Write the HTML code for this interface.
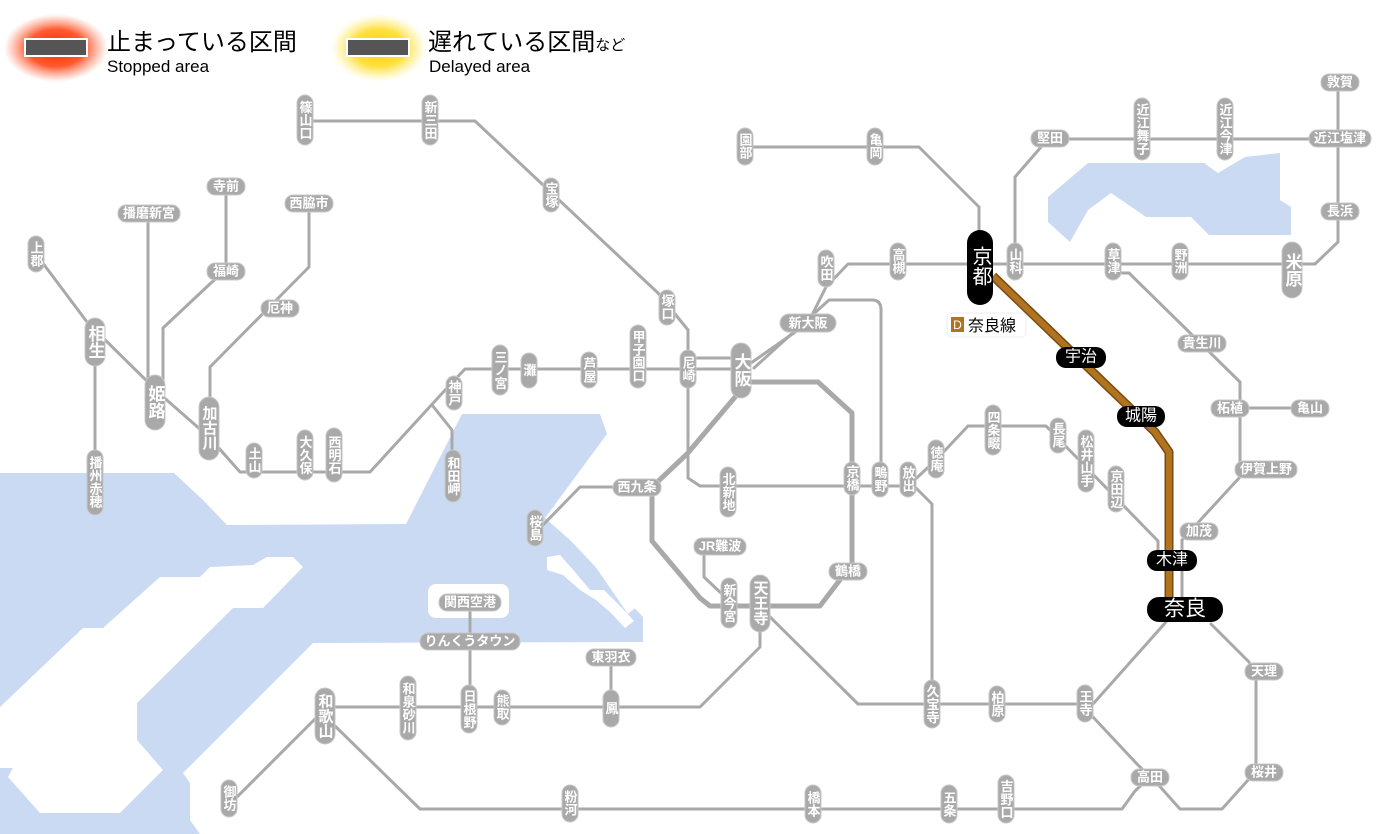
<!DOCTYPE html>
<html><head><meta charset="utf-8"><style>
html,body{margin:0;padding:0;background:#fff;width:1400px;height:834px;overflow:hidden}
svg{display:block}
.l{stroke:#a9a9a9;stroke-width:3;fill:none;stroke-linejoin:round;stroke-linecap:round}
.lw{stroke:#a9a9a9;stroke-width:5;fill:none;stroke-linejoin:round}
.p{fill:#a9a9a9;stroke:#c8c8c8;stroke-width:1}
.b{fill:#000}
.t{fill:#fff;font-family:"Liberation Sans","Noto Sans CJK JP",sans-serif;font-size:13px;font-weight:bold;text-anchor:middle;dominant-baseline:central}
.v{writing-mode:vertical-rl;letter-spacing:0}
</style></head><body>
<svg width="1400" height="834" viewBox="0 0 1400 834" xmlns="http://www.w3.org/2000/svg">
<defs>
<radialGradient id="rg"><stop offset="0" stop-color="#ff2a00"/><stop offset="0.55" stop-color="#ff5a30"/><stop offset="1" stop-color="#ff8060" stop-opacity="0"/></radialGradient>
<radialGradient id="yg"><stop offset="0" stop-color="#ffd000"/><stop offset="0.55" stop-color="#ffe040"/><stop offset="1" stop-color="#fff080" stop-opacity="0"/></radialGradient>
</defs>
<!-- water -->
<polygon fill="#cbdaf3" points="0,473 174,473 203,500 227,525 406,524 462,414 600,414 607,434 545,518 570,540 643,617 643,642 313,643 183,773 190,783 190,820 200,834 0,834"/>
<polygon fill="#fff" points="303,567 293,557 267,557 253,565 210,567 200,577 160,577 103,628 83,628 0,707 0,768 13,768 8,777 40,813 120,813 163,770 137,740 137,703 233,608 263,608"/>
<rect x="428" y="584" width="81" height="34" rx="8" fill="#fff"/>
<polygon fill="#fff" points="547,557 560,555 575,572 590,590 604,590 622,608 634,621 625,628 610,612 596,600 580,590 563,575 547,570"/>
<polygon fill="#fff" points="600,558 635,608 628,614 595,566"/>
<polygon fill="#cbdaf3" points="1088,163 1204,163 1218,173 1245,157 1280,153 1280,200 1291,207 1291,235 1209,235 1191,217 1146,217 1111,193 1088,210 1070,242 1048,222 1048,197"/>

<!-- legend -->
<ellipse cx="56" cy="48" rx="52" ry="34" fill="url(#rg)"/>
<rect x="25" y="39" width="62" height="17" fill="#555" stroke="#fff" stroke-width="2"/>
<text x="107" y="50" font-family="'Liberation Sans','Noto Sans CJK JP',sans-serif" font-size="24" fill="#000">止まっている区間</text>
<text x="107" y="72" font-family="'Liberation Sans',sans-serif" font-size="17" fill="#000">Stopped area</text>
<ellipse cx="379" cy="48" rx="48" ry="34" fill="url(#yg)"/>
<rect x="347" y="39" width="62" height="17" fill="#555" stroke="#fff" stroke-width="2"/>
<text x="428" y="50" font-family="'Liberation Sans','Noto Sans CJK JP',sans-serif" font-size="24" fill="#000">遅れている区間<tspan font-size="15">など</tspan></text>
<text x="429" y="72" font-family="'Liberation Sans',sans-serif" font-size="17" fill="#000">Delayed area</text>

<!-- lines -->
<path class="l" d="M305,121 H475 L658,293 L688,330 V478 L700,486 H914"/>
<path class="l" d="M36,254 L87,322 L161,395 L209,437 L240,472 H370 L447,388 L465,369 H741"/>
<path class="l" d="M688,358 H745"/>
<path class="l" d="M741,370 L808,323 L826,287 L848,264 H1315 L1338,242 V82"/>
<path class="l" d="M754,368 L829,300 H872 Q881,300 881,310 V486"/>
<path class="l" d="M745,147 H919 L979,207 V240"/>
<path class="l" d="M1015,262 V177 L1048,139 H1340"/>
<path class="l" d="M1113,273 H1129 L1240,382 V477 L1182,540 V600"/>
<path class="l" d="M1230,408 H1310"/>
<path class="l" d="M908,486 L936,460 L968,426 H1046 L1158,541 V560"/>
<path class="lw" d="M741,382 H818 L852,413 V564 L820,606 H710 L700,598 L652,541 V487 L687,454 L741,390"/>
<path class="l" d="M612,487 H580 L542,526"/>
<path class="l" d="M704,547 V577 L722,594"/>
<path class="l" d="M760,631 V647 L700,707 H325"/>
<path class="l" d="M470,602 V700"/>
<path class="l" d="M611,657 V700"/>
<path class="l" d="M767,614 L858,704 H1093 L1166,622"/>
<path class="l" d="M932,681 V504 L914,486"/>
<path class="l" d="M1093,717 L1137,764 L1150,777 L1135,791 L1122,809 H420 L335,726"/>
<path class="l" d="M1155,781 L1180,809 H1222 L1249,779"/>
<path class="l" d="M1256,775 V677 L1249,662 L1211,624"/>
<path class="l" d="M317,717 L237,797"/>
<path class="l" d="M95,340 V480"/>
<path class="l" d="M148,213 V380"/>
<path class="l" d="M226,186 V271 L212,282 L163,328 V380"/>
<path class="l" d="M309,203 V267 L210,367 V420"/>
<path class="l" d="M432,405 L452,430 V480"/>
<!-- Nara line -->
<path d="M993,276 L1155,432 L1169,452 V600" stroke="#7a4a10" stroke-width="9" fill="none" stroke-linejoin="round"/>
<path d="M993,276 L1155,432 L1169,452 V600" stroke="#b07420" stroke-width="6" fill="none" stroke-linejoin="round"/>

<!-- vertical stations -->
<g>
<rect class="p" x="297" y="95" width="16" height="50" rx="8"/><text class="t v" x="305" y="120">篠山口</text>
<rect class="p" x="422" y="95" width="16" height="50" rx="8"/><text class="t v" x="430" y="120">新三田</text>
<rect class="p" x="543" y="178" width="16" height="34" rx="8"/><text class="t v" x="551" y="195">宝塚</text>
<rect class="p" x="659" y="290" width="16" height="35" rx="8"/><text class="t v" x="667" y="307">塚口</text>
<rect class="p" x="680" y="350" width="16" height="38" rx="8"/><text class="t v" x="688" y="369">尼崎</text>
<rect class="p" x="630" y="325" width="16" height="63" rx="8"/><text class="t v" x="638" y="356">甲子園口</text>
<rect class="p" x="581" y="352" width="16" height="36" rx="8"/><text class="t v" x="589" y="370">芦屋</text>
<rect class="p" x="521" y="353" width="16" height="35" rx="8"/><text class="t v" x="529" y="370">灘</text>
<rect class="p" x="492" y="345" width="16" height="50" rx="8"/><text class="t v" x="500" y="370">三ノ宮</text>
<rect class="p" x="446" y="376" width="16" height="34" rx="8"/><text class="t v" x="454" y="393">神戸</text>
<rect class="p" x="445" y="450" width="16" height="52" rx="8"/><text class="t v" x="453" y="476">和田岬</text>
<rect class="p" x="326" y="428" width="16" height="54" rx="8"/><text class="t v" x="334" y="455">西明石</text>
<rect class="p" x="297" y="430" width="16" height="50" rx="8"/><text class="t v" x="305" y="455">大久保</text>
<rect class="p" x="246" y="443" width="16" height="35" rx="8"/><text class="t v" x="254" y="460">土山</text>
<rect class="p" x="199" y="397" width="20" height="63" rx="10"/><text class="t v" x="209" y="428" style="font-size:15px">加古川</text>
<rect class="p" x="145" y="375" width="20" height="55" rx="10"/><text class="t v" x="155" y="402" style="font-size:17px">姫路</text>
<rect class="p" x="85" y="318" width="20" height="48" rx="10"/><text class="t v" x="95" y="342" style="font-size:17px">相生</text>
<rect class="p" x="28" y="236" width="16" height="36" rx="8"/><text class="t v" x="36" y="254">上郡</text>
<rect class="p" x="87" y="450" width="16" height="65" rx="8"/><text class="t v" x="95" y="482">播州赤穂</text>
<rect class="p" x="731" y="343" width="20" height="55" rx="10"/><text class="t v" x="741" y="370" style="font-size:17px">大阪</text>
<rect class="p" x="818" y="250" width="16" height="37" rx="8"/><text class="t v" x="826" y="268">吹田</text>
<rect class="p" x="890" y="243" width="16" height="37" rx="8"/><text class="t v" x="898" y="261">高槻</text>
<rect class="p" x="1007" y="243" width="16" height="37" rx="8"/><text class="t v" x="1015" y="261">山科</text>
<rect class="p" x="737" y="128" width="16" height="37" rx="8"/><text class="t v" x="745" y="146">園部</text>
<rect class="p" x="867" y="128" width="16" height="37" rx="8"/><text class="t v" x="875" y="146">亀岡</text>
<rect class="p" x="1134" y="98" width="16" height="62" rx="8"/><text class="t v" x="1142" y="129">近江舞子</text>
<rect class="p" x="1217" y="98" width="16" height="62" rx="8"/><text class="t v" x="1225" y="129">近江今津</text>
<rect class="p" x="1282" y="242" width="20" height="56" rx="10"/><text class="t v" x="1292" y="270" style="font-size:17px">米原</text>
<rect class="p" x="1105" y="243" width="16" height="37" rx="8"/><text class="t v" x="1113" y="261">草津</text>
<rect class="p" x="1172" y="243" width="16" height="37" rx="8"/><text class="t v" x="1180" y="261">野洲</text>
<rect class="p" x="1077" y="685" width="16" height="37" rx="8"/><text class="t v" x="1085" y="703">王寺</text>
<rect class="p" x="989" y="686" width="16" height="36" rx="8"/><text class="t v" x="997" y="704">柏原</text>
<rect class="p" x="924" y="680" width="16" height="48" rx="8"/><text class="t v" x="932" y="704">久宝寺</text>
<rect class="p" x="998" y="775" width="16" height="48" rx="8"/><text class="t v" x="1006" y="799">吉野口</text>
<rect class="p" x="941" y="785" width="16" height="38" rx="8"/><text class="t v" x="949" y="804">五条</text>
<rect class="p" x="805" y="785" width="16" height="38" rx="8"/><text class="t v" x="813" y="804">橋本</text>
<rect class="p" x="562" y="785" width="16" height="37" rx="8"/><text class="t v" x="570" y="803">粉河</text>
<rect class="p" x="221" y="780" width="16" height="37" rx="8"/><text class="t v" x="229" y="798">御坊</text>
<rect class="p" x="315" y="688" width="20" height="56" rx="10"/><text class="t v" x="325" y="716" style="font-size:15px">和歌山</text>
<rect class="p" x="400" y="676" width="16" height="64" rx="8"/><text class="t v" x="408" y="708">和泉砂川</text>
<rect class="p" x="461" y="685" width="16" height="48" rx="8"/><text class="t v" x="469" y="709">日根野</text>
<rect class="p" x="494" y="690" width="16" height="35" rx="8"/><text class="t v" x="502" y="707">熊取</text>
<rect class="p" x="603" y="690" width="16" height="37" rx="8"/><text class="t v" x="611" y="708">鳳</text>
<rect class="p" x="750" y="575" width="20" height="57" rx="10"/><text class="t v" x="760" y="603" style="font-size:15px">天王寺</text>
<rect class="p" x="721" y="578" width="16" height="50" rx="8"/><text class="t v" x="729" y="603">新今宮</text>
<rect class="p" x="844" y="462" width="16" height="33" rx="8"/><text class="t v" x="852" y="478">京橋</text>
<rect class="p" x="872" y="462" width="16" height="35" rx="8"/><text class="t v" x="880" y="479">鴫野</text>
<rect class="p" x="900" y="462" width="16" height="35" rx="8"/><text class="t v" x="908" y="479">放出</text>
<rect class="p" x="928" y="440" width="16" height="38" rx="8"/><text class="t v" x="936" y="459">徳庵</text>
<rect class="p" x="985" y="405" width="16" height="50" rx="8"/><text class="t v" x="993" y="430">四条畷</text>
<rect class="p" x="1050" y="418" width="16" height="35" rx="8"/><text class="t v" x="1058" y="435">長尾</text>
<rect class="p" x="1078" y="430" width="16" height="62" rx="8"/><text class="t v" x="1086" y="461">松井山手</text>
<rect class="p" x="1108" y="466" width="16" height="46" rx="8"/><text class="t v" x="1116" y="489">京田辺</text>
<rect class="p" x="720" y="467" width="16" height="50" rx="8"/><text class="t v" x="728" y="492">北新地</text>
<rect class="p" x="527" y="510" width="16" height="36" rx="8"/><text class="t v" x="535" y="528">桜島</text>
</g>
<!-- horizontal stations -->
<g>
<rect class="p" x="118" y="205" width="62" height="17" rx="8"/><text class="t" x="149" y="213">播磨新宮</text>
<rect class="p" x="207" y="178" width="38" height="17" rx="8"/><text class="t" x="226" y="186">寺前</text>
<rect class="p" x="207" y="263" width="38" height="17" rx="8"/><text class="t" x="226" y="271">福崎</text>
<rect class="p" x="285" y="195" width="48" height="17" rx="8"/><text class="t" x="309" y="203">西脇市</text>
<rect class="p" x="261" y="300" width="38" height="17" rx="8"/><text class="t" x="280" y="308">厄神</text>
<rect class="p" x="780" y="314" width="56" height="18" rx="9"/><text class="t" x="808" y="323">新大阪</text>
<rect class="p" x="1031" y="130" width="38" height="17" rx="8"/><text class="t" x="1050" y="138">堅田</text>
<rect class="p" x="1309" y="130" width="62" height="17" rx="8"/><text class="t" x="1340" y="138">近江塩津</text>
<rect class="p" x="1321" y="74" width="38" height="17" rx="8"/><text class="t" x="1340" y="82">敦賀</text>
<rect class="p" x="1321" y="203" width="38" height="17" rx="8"/><text class="t" x="1340" y="211">長浜</text>
<rect class="p" x="1178" y="335" width="48" height="17" rx="8"/><text class="t" x="1202" y="343">貴生川</text>
<rect class="p" x="1211" y="400" width="38" height="17" rx="8"/><text class="t" x="1230" y="408">柘植</text>
<rect class="p" x="1291" y="400" width="38" height="17" rx="8"/><text class="t" x="1310" y="408">亀山</text>
<rect class="p" x="1235" y="461" width="62" height="17" rx="8"/><text class="t" x="1266" y="469">伊賀上野</text>
<rect class="p" x="1180" y="523" width="38" height="17" rx="8"/><text class="t" x="1199" y="531">加茂</text>
<rect class="p" x="1245" y="663" width="38" height="17" rx="8"/><text class="t" x="1264" y="671">天理</text>
<rect class="p" x="1245" y="764" width="38" height="17" rx="8"/><text class="t" x="1264" y="772">桜井</text>
<rect class="p" x="1131" y="769" width="38" height="17" rx="8"/><text class="t" x="1150" y="777">高田</text>
<rect class="p" x="586" y="649" width="50" height="17" rx="8"/><text class="t" x="611" y="657">東羽衣</text>
<rect class="p" x="420" y="633" width="100" height="17" rx="8"/><text class="t" x="470" y="641">りんくうタウン</text>
<rect class="p" x="439" y="594" width="62" height="17" rx="8"/><text class="t" x="470" y="602">関西空港</text>
<rect class="p" x="694" y="538" width="52" height="17" rx="8"/><text class="t" x="720" y="546">JR難波</text>
<rect class="p" x="829" y="563" width="38" height="17" rx="8"/><text class="t" x="848" y="571">鶴橋</text>
<rect class="p" x="613" y="479" width="48" height="17" rx="8"/><text class="t" x="637" y="487">西九条</text>
</g>
<!-- black stations -->
<rect class="b" x="967" y="230" width="26" height="75" rx="13"/><text class="t v" x="980" y="266" style="font-size:20px;font-weight:normal">京都</text>
<rect class="b" x="1056" y="347" width="50" height="21" rx="10"/><text class="t" x="1081" y="357" style="font-size:16px;font-weight:normal">宇治</text>
<rect class="b" x="1117" y="406" width="48" height="21" rx="10"/><text class="t" x="1141" y="416" style="font-size:16px;font-weight:normal">城陽</text>
<rect class="b" x="1147" y="550" width="50" height="21" rx="10"/><text class="t" x="1172" y="560" style="font-size:16px;font-weight:normal">木津</text>
<rect class="b" x="1147" y="597" width="76" height="25" rx="12"/><text class="t" x="1185" y="609" style="font-size:21px;font-weight:normal">奈良</text>
<!-- Nara line label -->
<rect x="947" y="313" width="79" height="24" rx="4" fill="#fff" stroke="#eee"/>
<rect x="951" y="317" width="13" height="15" fill="#b07420"/>
<text x="957.5" y="329" font-family="'Liberation Sans',sans-serif" font-size="12" fill="#fff" text-anchor="middle">D</text>
<text x="968" y="331" font-family="'Liberation Sans','Noto Sans CJK JP',sans-serif" font-size="16" fill="#000">奈良線</text>
</svg>
</body></html>
